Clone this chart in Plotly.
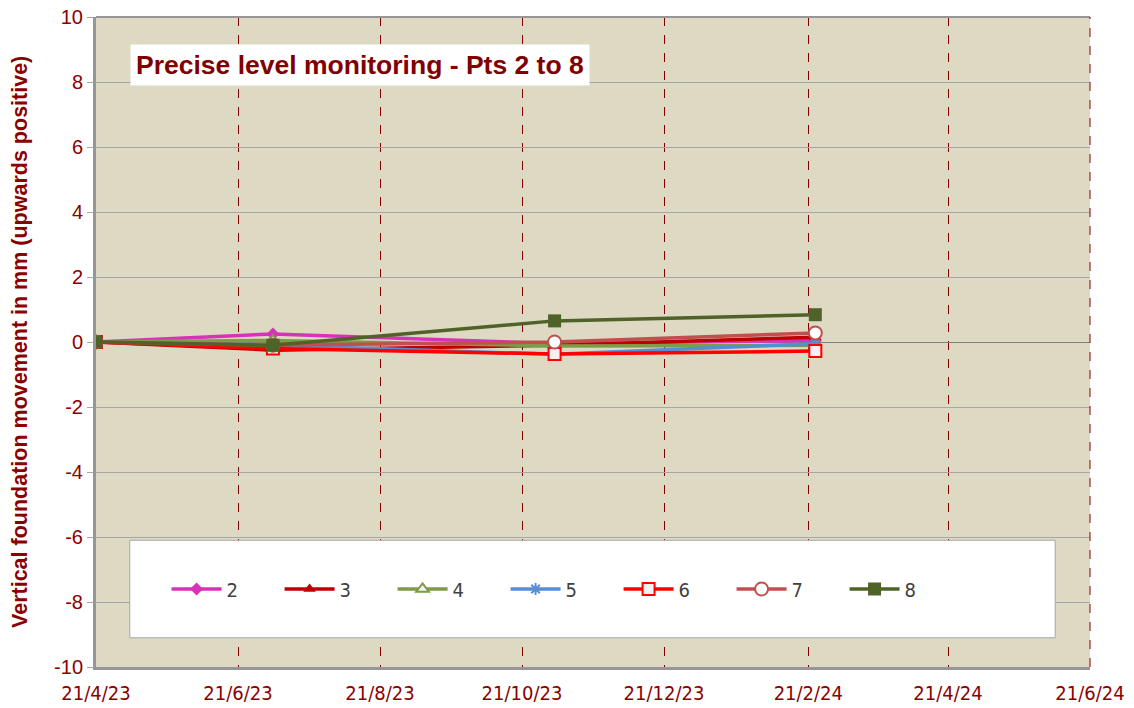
import plotly.graph_objects as go

dates = ["2023-04-21", "2023-07-06", "2023-11-04", "2024-02-24"]
series_names = ["2", "3", "4", "5", "6", "7", "8"]
s2 = [0.0, 0.25, -0.05, 0.05]
s3 = [0.0, -0.25, -0.1, 0.15]
s4 = [0.0, 0.05, -0.12, -0.1]
s5 = [0.0, -0.1, -0.38, -0.05]
s6 = [0.0, -0.2, -0.37, -0.28]
s7 = [0.0, -0.1, 0.0, 0.28]
s8 = [0.0, -0.1, 0.65, 0.84]
values = [s2, s3, s4, s5, s6, s7, s8]

tick_vals = ["2023-04-21", "2023-06-21", "2023-08-21", "2023-10-21",
             "2023-12-21", "2024-02-21", "2024-04-21", "2024-06-21"]
tick_text = ["21/4/23", "21/6/23", "21/8/23", "21/10/23",
             "21/12/23", "21/2/24", "21/4/24", "21/6/24"]
y_ticks = [-10, -8, -6, -4, -2, 0, 2, 4, 6, 8, 10]
y_tick_text = [str(v) for v in y_ticks]

colors = ["#D633B8", "#C00000", "#7F9A48", "#558ED5", "#FF0000", "#C0504D", "#4F6228"]
markers = [
    dict(symbol="diamond", size=10, color="#D633B8"),
    dict(symbol="triangle-up", size=11, color="#C00000"),
    dict(symbol="triangle-up", size=11, color="#F2F2F2", line=dict(color="#7F9A48", width=2)),
    dict(symbol="asterisk-open", size=10, color="#558ED5", line=dict(color="#558ED5", width=2)),
    dict(symbol="square", size=12, color="#F2F2F2", line=dict(color="#FF0000", width=2)),
    dict(symbol="circle", size=13, color="#FFFFFF", line=dict(color="#C0504D", width=2)),
    dict(symbol="square", size=13, color="#4F6228"),
]

dark_red = "#8B0000"
narrow = "DejaVu Sans Condensed, Liberation Sans Narrow, Liberation Sans, Arial"
fig = go.Figure()
for name, vals, c, m in zip(series_names, values, colors, markers):
    fig.add_trace(go.Scatter(x=dates, y=vals, name=name, mode="lines+markers",
                             line=dict(color=c, width=3.5), marker=m))

# legend background box
fig.add_shape(type="rect", xref="paper", yref="paper", x0=0.034, x1=0.965, y0=0.045, y1=0.195,
              fillcolor="white", line=dict(color="#A6A6A6", width=1), layer="above")

fig.add_annotation(xref="paper", yref="paper", x=0.034, y=0.926, xanchor="left", yanchor="middle",
                   text="<b>Precise level monitoring - Pts 2 to 8</b>", showarrow=False,
                   font=dict(family="Liberation Sans, Arial", size=26.5, color="#800000"),
                   bgcolor="white", borderpad=5)

fig.add_annotation(xref="paper", yref="paper", x=-0.0765, y=0.5, xanchor="center", yanchor="middle",
                   text="<b>Vertical foundation movement in mm (upwards positive)</b>", showarrow=False,
                   textangle=-90,
                   font=dict(family="Liberation Sans, Arial", size=21.5, color=dark_red))

fig.update_layout(
    width=1134, height=708,
    margin=dict(l=88, r=52, t=9, b=49),
    paper_bgcolor="white",
    plot_bgcolor="#DDD9C3",
    font=dict(family="Liberation Sans, Arial", color=dark_red),
    legend=dict(orientation="h", x=0.071, y=0.12, xanchor="left", yanchor="middle",
                bgcolor="rgba(0,0,0,0)", entrywidth=48, entrywidthmode="pixels",
                font=dict(family=narrow, size=20, color="#404040"),
                itemwidth=50),
    xaxis=dict(type="date", range=["2023-04-21", "2024-06-21"], tickvals=tick_vals, ticktext=tick_text,
               showgrid=True, gridcolor="#800000", griddash="dash", gridwidth=1,
               showline=True, linecolor="#969696", linewidth=3, mirror=False,
               ticks="", ticklabelstandoff=6, automargin=False, ticklabeloverflow="allow",
               tickfont=dict(family=narrow, size=20, color=dark_red),
               zeroline=False),
    yaxis=dict(range=[-10, 10], tickvals=y_ticks, ticktext=y_tick_text, showgrid=True,
               gridcolor="#A6A6A6", gridwidth=1,
               showline=True, linecolor="#969696", linewidth=3, mirror=False,
               ticks="outside", ticklen=6, tickcolor="#A6A6A6", automargin=False,
               ticklabeloverflow="allow",
               zeroline=True, zerolinecolor="#808080", zerolinewidth=1,
               tickfont=dict(family="Liberation Sans, Arial", size=20, color=dark_red)),
)
# top border
fig.add_shape(type="line", xref="paper", yref="paper", x0=0, x1=1, y0=1, y1=1,
              line=dict(color="#969696", width=2))
fig.add_shape(type="line", xref="paper", yref="paper", x0=1, x1=1, y0=0, y1=1,
              line=dict(color="#800000", width=1, dash="dash"))

fig.write_html("out.html")
